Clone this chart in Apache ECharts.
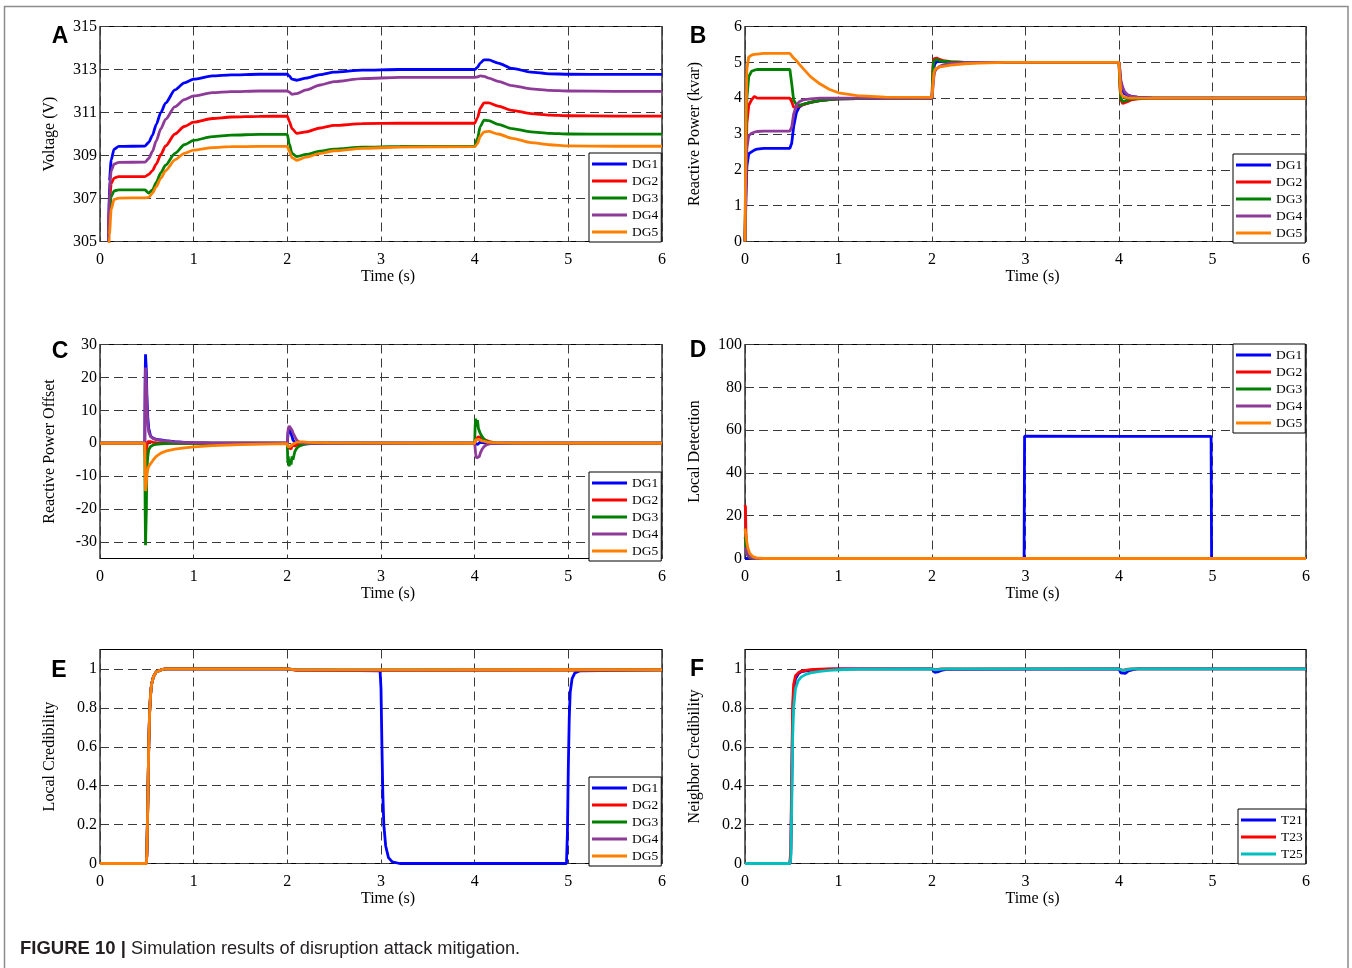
<!DOCTYPE html>
<html>
<head>
<meta charset="utf-8">
<script src="https://cdn.jsdelivr.net/npm/echarts@6/dist/echarts.min.js"></script>
<style>
html,body{margin:0;padding:0;background:#fff;}
#chart{width:1352px;height:968px;}
</style>
</head>
<body>
<div id="chart"></div>
<script>
// ---------- Panel A: DG terminal voltage (V) ----------
const tA = [0.09, 0.1, 0.12, 0.15, 0.2, 0.48, 0.52, 0.56, 0.6, 0.65, 0.7, 0.8, 0.9, 1.0, 1.2, 1.4, 1.7,
  2.0, 2.02, 2.05, 2.1, 2.2, 2.35, 2.5, 2.8, 3.2,
  4.0, 4.03, 4.06, 4.1, 4.15, 4.25, 4.4, 4.6, 4.8, 5.0, 5.5, 6.0];
const aDG1 = [305, 307.8, 308.8, 309.3, 309.42, 309.44, 309.61, 309.94, 310.44, 311.01, 311.44, 312.05, 312.38, 312.55, 312.7, 312.75, 312.78,
  312.78, 312.7, 312.55, 312.5, 312.6, 312.76, 312.88, 312.97, 313.0,
  313.0, 313.1, 313.3, 313.45, 313.45, 313.3, 313.05, 312.88, 312.8, 312.78, 312.77, 312.77];
const aDG2 = [305, 306.8, 307.7, 307.95, 308.02, 308.02, 308.12, 308.3, 308.6, 309.05, 309.45, 310.0, 310.35, 310.55, 310.72, 310.79, 310.82,
  310.83, 310.6, 310.25, 310.03, 310.1, 310.28, 310.4, 310.48, 310.5,
  310.5, 310.75, 311.2, 311.45, 311.45, 311.3, 311.1, 310.95, 310.88, 310.85, 310.83, 310.83];
const aDG3 = [305, 306.2, 307.1, 307.35, 307.4, 307.4, 307.25, 307.4, 307.75, 308.2, 308.55, 309.1, 309.5, 309.7, 309.88, 309.95, 309.98,
  309.98, 309.55, 309.1, 308.95, 309.05, 309.2, 309.3, 309.39, 309.42,
  309.43, 309.8, 310.35, 310.65, 310.62, 310.45, 310.25, 310.1, 310.03, 310.0, 309.99, 309.99];
const aDG4 = [305, 307.4, 308.3, 308.6, 308.68, 308.69, 308.86, 309.19, 309.68, 310.25, 310.68, 311.27, 311.6, 311.77, 311.92, 311.97, 312.0,
  312.0, 311.95, 311.85, 311.88, 312.05, 312.28, 312.44, 312.58, 312.63,
  312.63, 312.66, 312.7, 312.68, 312.6, 312.45, 312.25, 312.1, 312.03, 312.0, 311.98, 311.98];
const aDG5 = [304, 305.3, 306.5, 306.95, 307.02, 307.03, 307.05, 307.25, 307.55, 307.95, 308.3, 308.8, 309.1, 309.25, 309.37, 309.41, 309.42,
  309.42, 309.2, 308.9, 308.78, 308.92, 309.1, 309.22, 309.33, 309.39,
  309.41, 309.55, 309.9, 310.1, 310.12, 310.0, 309.8, 309.6, 309.5, 309.45, 309.43, 309.43];
const aTicks = [305, 307, 309, 311, 313, 315];

// ---------- Panel B: reactive power (kvar) ----------
const tB = [0, 0.01, 0.02, 0.04, 0.07, 0.1, 0.13, 0.2,
  0.48, 0.5, 0.52, 0.55, 0.58, 0.62, 0.7, 0.8, 0.9, 1.0, 1.2, 1.5,
  2.0, 2.01, 2.02, 2.03, 2.05, 2.08, 2.12, 2.2, 2.35, 2.5, 2.8,
  4.0, 4.01, 4.02, 4.04, 4.06, 4.09, 4.13, 4.2, 4.35, 4.5, 6.0];
const bDG1 = [0, 1.2, 2.1, 2.45, 2.5, 2.55, 2.58, 2.6,
  2.6, 2.75, 3.2, 3.6, 3.75, 3.82, 3.88, 3.93, 3.96, 3.98, 3.99, 4.0,
  4.0, 4.5, 4.85, 4.95, 5.02, 5.03, 5.02, 5.0, 5.0, 5.0, 5.0,
  5.0, 4.7, 4.4, 4.2, 4.12, 4.08, 4.05, 4.03, 4.01, 4.0, 4.0];
const bDG2 = [0, 2.0, 3.3, 3.8, 3.95, 4.05, 4.0, 4.0,
  4.0, 3.9, 3.75, 3.75, 3.78, 3.82, 3.88, 3.93, 3.96, 3.98, 3.99, 4.0,
  4.0, 4.9, 5.1, 5.15, 5.12, 5.08, 5.05, 5.02, 5.0, 5.0, 5.0,
  5.0, 4.3, 3.95, 3.85, 3.86, 3.9, 3.95, 3.98, 4.0, 4.0, 4.0];
const bDG3 = [0, 2.6, 4.0, 4.6, 4.75, 4.78, 4.8, 4.8,
  4.8, 4.4, 3.95, 3.82, 3.8, 3.83, 3.88, 3.93, 3.96, 3.98, 3.99, 4.0,
  4.0, 4.8, 5.05, 5.1, 5.08, 5.05, 5.03, 5.01, 5.0, 5.0, 5.0,
  5.0, 4.4, 4.0, 3.9, 3.92, 3.95, 3.98, 3.99, 4.0, 4.0, 4.0];
const bDG4 = [0, 1.6, 2.6, 2.95, 3.02, 3.05, 3.07, 3.08,
  3.08, 3.2, 3.55, 3.8, 3.9, 3.95, 3.98, 4.0, 4.0, 4.0, 4.0, 4.0,
  4.0, 4.3, 4.6, 4.75, 4.82, 4.88, 4.93, 4.97, 4.99, 5.0, 5.0,
  5.0, 4.8, 4.5, 4.3, 4.18, 4.1, 4.05, 4.02, 4.0, 4.0, 4.0];
const bDG5 = [0, 3.2, 4.8, 5.15, 5.2, 5.22, 5.23, 5.25,
  5.25, 5.22, 5.12, 5.05, 4.95, 4.83, 4.6, 4.4, 4.25, 4.15, 4.07, 4.03,
  4.02, 4.4, 4.7, 4.8, 4.85, 4.87, 4.89, 4.92, 4.96, 4.98, 5.0,
  5.0, 4.5, 4.15, 4.05, 4.02, 4.01, 4.0, 4.0, 4.0, 4.0, 4.0];
const bTicks = [0, 1, 2, 3, 4, 5, 6];

// ---------- Panel C: reactive power offset ----------
const tC = [0, 0.478, 0.482, 0.486, 0.49, 0.495, 0.5, 0.51, 0.52, 0.54, 0.57, 0.6, 0.65, 0.7, 0.8, 0.9, 1.0, 1.2, 1.5,
  2.0, 2.005, 2.01, 2.02, 2.03, 2.04, 2.05, 2.06, 2.08, 2.1, 2.13, 2.17, 2.22, 2.3, 2.45,
  4.0, 4.005, 4.01, 4.02, 4.03, 4.04, 4.05, 4.06, 4.08, 4.1, 4.13, 4.17, 4.22, 4.3, 4.45, 6.0];
const cDG1 = [0, 0, 20, 27, 27, 22, 15, 8, 4.5, 2.2, 1.5, 1.2, 1.0, 0.8, 0.5, 0.3, 0.2, 0.05, 0,
  0, 2, 3.5, 4.2, 4.0, 3.0, 2.0, 1.0, 0.3, 0, -0.3, -0.2, 0, 0, 0,
  0, 0, -0.3, -0.5, -0.4, -0.2, 0.2, 0.4, 0.3, 0.1, 0, 0, 0, 0, 0, 0];
const cDG2 = [0, 0, -3, -5, -4, -2, -1, 0.5, 0.8, 0.5, 0.3, 0.2, 0.15, 0.1, 0, 0, 0, 0, 0,
  0, -0.5, -1, -1.5, -1, -1.8, -0.5, -1, -0.8, -0.5, -0.3, 0, 0, 0, 0,
  0, 0.5, 1, 1.5, 1.2, 2, 1.8, 1.5, 1.5, 1.2, 0.8, 0.4, 0.1, 0, 0, 0];
const cDG3 = [0, 0, -20, -31, -31, -20, -8, -4, -2, -1, -0.5, -0.3, -0.2, -0.1, 0, 0, 0, 0, 0,
  0, -6, -4, -7, -5, -6.5, -4, -5, -2.5, -1.5, -0.8, -0.4, -0.2, 0, 0,
  0, 5, 7.5, 5, 7, 4.5, 5, 3, 2, 1.2, 0.6, 0.3, 0.1, 0, 0, 0];
const cDG4 = [0, 0, 15, 23, 23, 18, 12, 6, 3.5, 2, 1.4, 1.1, 0.9, 0.7, 0.45, 0.3, 0.2, 0.05, 0,
  0, 3, 4.5, 5.2, 5, 4.6, 4, 3.2, 2, 1, 0.3, 0, 0, 0, 0,
  0, -1.5, -3, -4.5, -5, -4.8, -4, -3, -1.8, -1, -0.4, -0.1, 0, 0, 0, 0];
const cDG5 = [0, 0, -8, -14.5, -14.5, -12, -9.5, -8, -7, -6.5, -5, -4, -3, -2.4, -1.8, -1.4, -1.1, -0.7, -0.4,
  -0.1, -1, -1.5, -1.3, -1, -0.7, -0.4, -0.2, 0.1, 0.3, 0.4, 0.4, 0.3, 0.2, 0.1,
  0, 0.5, 1.0, 1.5, 1.4, 1.2, 1.0, 0.9, 0.7, 0.6, 0.4, 0.3, 0.2, 0.1, 0.05, 0];
const cTicks = [-30, -20, -10, 0, 10, 20, 30];

// ---------- Panel D: local detection ----------
const tD = [0, 0.005, 0.01, 0.02, 0.03, 0.05, 0.08, 0.12, 0.2, 2.985, 2.99, 4.0, 4.985, 4.99, 6.0];
const dDG1 = [0, 0, 0, 0, 0, 0, 0, 0, 0, 0, 57.2, 57.1, 57.1, 0, 0];
const dDG2 = [25, 24, 12, 4, 1.5, 0.3, 0, 0, 0, 0, 0, 0, 0, 0, 0];
const dDG3 = [10, 9, 6, 3, 1.5, 0.5, 0.1, 0, 0, 0, 0, 0, 0, 0, 0];
const dDG4 = [5, 5, 4, 2.5, 1.5, 0.6, 0.2, 0, 0, 0, 0, 0, 0, 0, 0];
const dDG5 = [14, 13.5, 11, 7.5, 5, 2.5, 1, 0.3, 0, 0, 0, 0, 0, 0, 0];
const dTicks = [0, 20, 40, 60, 80, 100];

// ---------- Panel E: local credibility ----------
const tE = [0, 0.495, 0.5, 0.51, 0.52, 0.53, 0.54, 0.55, 0.57, 0.6, 0.65, 0.7,
  1.0, 2.0, 2.1,
  2.99, 3.0, 3.01, 3.02, 3.03, 3.05, 3.08, 3.12, 3.2,
  4.98, 4.99, 5.0, 5.01, 5.02, 5.04, 5.07, 5.12, 6.0];
const eDG1 = [0, 0, 0.05, 0.3, 0.6, 0.78, 0.87, 0.92, 0.96, 0.985, 0.995, 1,
  1, 1, 0.995,
  0.99, 0.9, 0.6, 0.35, 0.2, 0.09, 0.03, 0.008, 0,
  0, 0.15, 0.5, 0.75, 0.88, 0.95, 0.98, 0.99, 0.995];
const eDG2 = [0, 0, 0.05, 0.3, 0.6, 0.78, 0.87, 0.92, 0.96, 0.985, 0.995, 1,
  1, 1, 0.993,
  0.993, 0.993, 0.993, 0.993, 0.993, 0.993, 0.993, 0.993, 0.993,
  0.994, 0.994, 0.994, 0.994, 0.994, 0.994, 0.994, 0.994, 0.995];
const eDG3 = [0, 0, 0.05, 0.3, 0.6, 0.78, 0.87, 0.92, 0.96, 0.985, 0.995, 1,
  1, 1, 0.995,
  0.995, 0.995, 0.995, 0.995, 0.995, 0.995, 0.995, 0.995, 0.995,
  0.995, 0.995, 0.995, 0.995, 0.995, 0.995, 0.995, 0.995, 0.996];
const eDG4 = [0, 0, 0.05, 0.3, 0.6, 0.78, 0.87, 0.92, 0.96, 0.985, 0.995, 1,
  1, 1, 0.994,
  0.994, 0.994, 0.994, 0.994, 0.994, 0.994, 0.994, 0.994, 0.994,
  0.995, 0.995, 0.995, 0.995, 0.995, 0.995, 0.995, 0.995, 0.995];
const eDG5 = [0, 0, 0.05, 0.3, 0.6, 0.78, 0.87, 0.92, 0.96, 0.985, 0.995, 1,
  1, 1, 0.995,
  0.995, 0.995, 0.995, 0.995, 0.995, 0.995, 0.995, 0.995, 0.995,
  0.996, 0.996, 0.996, 0.996, 0.996, 0.996, 0.996, 0.996, 0.996];
const eTicks = [0, 0.2, 0.4, 0.6, 0.8, 1];

// ---------- Panel F: neighbor credibility ----------
const tF = [0, 0.48, 0.49, 0.5, 0.51, 0.52, 0.54, 0.57, 0.6, 0.65, 0.7, 0.8, 0.9, 1.0, 1.2,
  2.0, 2.01, 2.03, 2.06, 2.1, 2.15,
  4.0, 4.02, 4.04, 4.07, 4.1, 4.15, 4.2, 6.0];
const fT21 = [0, 0, 0.05, 0.4, 0.75, 0.88, 0.95, 0.975, 0.985, 0.99, 0.993, 0.997, 0.999, 1, 1,
  1, 0.99, 0.983, 0.985, 0.992, 0.998,
  1, 0.98, 0.972, 0.978, 0.99, 0.997, 1, 1];
const fT23 = [0, 0, 0.08, 0.5, 0.82, 0.92, 0.965, 0.98, 0.988, 0.993, 0.996, 0.999, 1, 1, 1,
  1, 0.998, 0.996, 0.998, 1, 1,
  1, 0.995, 0.993, 0.996, 0.999, 1, 1, 1];
const fT25 = [0, 0, 0.03, 0.3, 0.65, 0.8, 0.9, 0.94, 0.958, 0.972, 0.98, 0.988, 0.993, 0.996, 0.999,
  1, 0.998, 0.996, 0.997, 0.999, 1,
  1, 0.995, 0.992, 0.995, 0.998, 1, 1, 1];

const dgNames = ['DG1', 'DG2', 'DG3', 'DG4', 'DG5'];
const dgColors = ['#0000ff', '#ff0000', '#008000', '#8e3a98', '#ff8000'];
const tNames = ['T21', 'T23', 'T25'];
const tColors = ['#0000ff', '#ff0000', '#00bfbf'];

// ---------- styling helpers ----------
const SERIF = '"Liberation Serif", "Times New Roman", serif';
const SANS = '"Liberation Sans", Arial, sans-serif';
const gridLine = { show: true, lineStyle: { color: '#3a3a3a', width: 1, type: [9, 5] } };

const grids = [
  { left: 100, top: 26.5, width: 562, height: 215 },
  { left: 745, top: 26.5, width: 561, height: 215 },
  { left: 100, top: 344.5, width: 562, height: 214 },
  { left: 745, top: 344.5, width: 561, height: 214 },
  { left: 100, top: 649.5, width: 562, height: 214 },
  { left: 745, top: 649.5, width: 561, height: 214 }
].map(g => Object.assign({ show: true, borderColor: '#000', borderWidth: 1.2, backgroundColor: '#fff' }, g));

function timeAxis(gi) {
  return {
    gridIndex: gi, type: 'value', min: 0, max: 6, interval: 1,
    name: 'Time (s)', nameLocation: 'middle', nameGap: 24,
    nameTextStyle: { fontFamily: SERIF, fontSize: 16, color: '#000', padding: [0, 0, 0, 14] },
    axisLine: { show: false }, axisTick: { show: false },
    axisLabel: { fontFamily: SERIF, fontSize: 16, color: '#000', margin: 10 },
    splitLine: gridLine
  };
}
function valueAxis(gi, name, min, max, ticks) {
  return {
    gridIndex: gi, type: 'value', min: min, max: max,
    name: name, nameLocation: 'middle', nameGap: 42,
    nameTextStyle: { fontFamily: SERIF, fontSize: 16, color: '#000' },
    axisLine: { show: false },
    axisTick: { show: false, customValues: ticks },
    axisLabel: { fontFamily: SERIF, fontSize: 16, color: '#000', margin: 3, customValues: ticks },
    splitLine: gridLine
  };
}
function legendBox(names, left, top) {
  return {
    orient: 'vertical', left: left, top: top, data: names,
    icon: 'rect', itemWidth: 35, itemHeight: 3, itemGap: 3,
    padding: [4, 3, 3, 3], borderColor: '#000', borderWidth: 1, backgroundColor: '#fff',
    selectedMode: false,
    textStyle: { fontFamily: SERIF, fontSize: 13.5, color: '#000', lineHeight: 13 }
  };
}
function lines(gi, names, colors, t, arrays, smooth) {
  return arrays.map((vals, k) => ({
    type: 'line', name: names[k], xAxisIndex: gi, yAxisIndex: gi,
    data: t.map((x, i) => [x, vals[i]]),
    showSymbol: false, symbol: 'none', smooth: smooth || false,
    smoothMonotone: smooth ? 'x' : undefined,
    clip: true, silent: true,
    lineStyle: { color: colors[k], width: 2.8 },
    itemStyle: { color: colors[k] },
    emphasis: { disabled: true }
  }));
}

const series = [].concat(
  lines(0, dgNames, dgColors, tA, [aDG1, aDG2, aDG3, aDG4, aDG5], 0.25),
  lines(1, dgNames, dgColors, tB, [bDG1, bDG2, bDG3, bDG4, bDG5]),
  lines(2, dgNames, dgColors, tC, [cDG1, cDG2, cDG3, cDG4, cDG5]),
  lines(3, dgNames, dgColors, tD, [dDG1, dDG2, dDG3, dDG4, dDG5]),
  lines(4, dgNames, dgColors, tE, [eDG1, eDG2, eDG3, eDG4, eDG5]),
  lines(5, tNames, tColors, tF, [fT21, fT23, fT25])
);

function panelLetter(ch, x, y) {
  return {
    type: 'text', x: x, y: y, silent: true,
    style: { text: ch, fill: '#000', font: 'bold 23px ' + SANS, align: 'center', verticalAlign: 'middle' }
  };
}

const option = {
  animation: false,
  backgroundColor: '#fff',
  grid: grids,
  xAxis: [0, 1, 2, 3, 4, 5].map(timeAxis),
  yAxis: [
    valueAxis(0, 'Voltage (V)', 305, 315, aTicks),
    valueAxis(1, 'Reactive Power (kvar)', 0, 6, bTicks),
    valueAxis(2, 'Reactive Power Offset', -35, 30, cTicks),
    valueAxis(3, 'Local Detection', 0, 100, dTicks),
    valueAxis(4, 'Local Credibility', 0, 1.1, eTicks),
    valueAxis(5, 'Neighbor Credibility', 0, 1.1, eTicks)
  ],
  legend: [
    legendBox(dgNames, 589, 153),
    legendBox(dgNames, 1233, 154),
    legendBox(dgNames, 589, 472),
    legendBox(dgNames, 1233, 344),
    legendBox(dgNames, 589, 777),
    legendBox(tNames, 1238, 809)
  ],
  series: series,
  graphic: [
    { type: 'rect', silent: true, z: -10,
      shape: { x: 4.5, y: 6.5, width: 1343.5, height: 1000 },
      style: { fill: 'none', stroke: '#8c8c8c', lineWidth: 1.5 } },
    panelLetter('A', 60, 37),
    panelLetter('B', 698, 37),
    panelLetter('C', 60, 352),
    panelLetter('D', 698, 351),
    panelLetter('E', 59, 671),
    panelLetter('F', 697, 670),
    { type: 'text', x: 20, y: 949, silent: true,
      style: {
        text: '{b|FIGURE 10 |} Simulation results of disruption attack mitigation.',
        font: '18.2px ' + SANS, fill: '#231f20', verticalAlign: 'middle',
        rich: { b: { font: 'bold 18.5px ' + SANS, fill: '#231f20' } }
      } }
  ]
};

const chart = echarts.init(document.getElementById('chart'), null, { renderer: 'canvas' });
chart.setOption(option);
</script>
</body>
</html>
